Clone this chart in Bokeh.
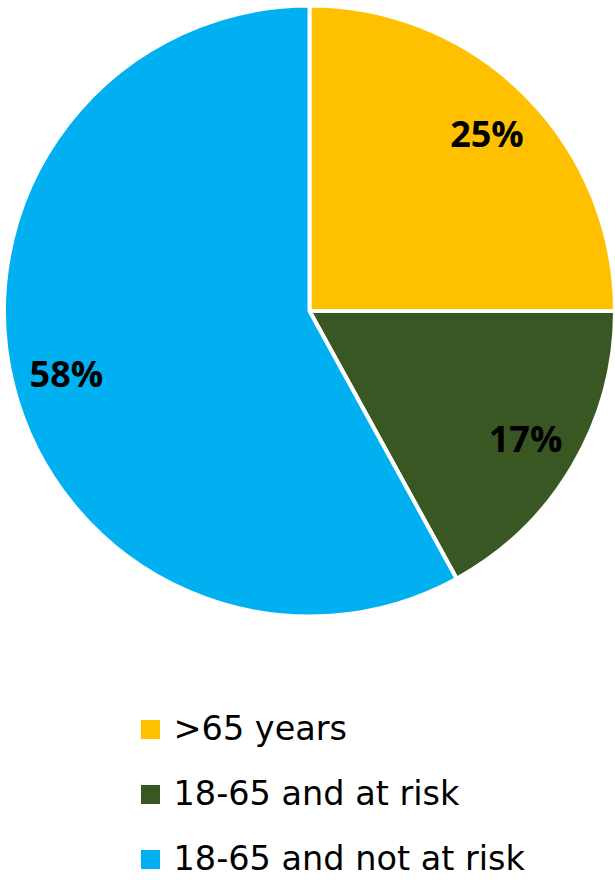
import math
from bokeh.plotting import figure
from bokeh.models import Range1d, ColumnDataSource
from bokeh.core.properties import value
from bokeh.embed import file_html
from bokeh.resources import INLINE

categories = [">65 years", "18-65 and at risk", "18-65 and not at risk"]
shares = [25, 17, 58]
labels = ["25%", "17%", "58%"]
colors = ["#FFC000", "#385723", "#00B0F0"]

W, H = 615, 880
p = figure(width=W, height=H, output_backend="svg", toolbar_location=None,
           x_range=Range1d(0, W), y_range=Range1d(-H, 0),
           min_border=0)
p.axis.visible = False
p.grid.visible = False
p.outline_line_color = None
p.background_fill_color = "white"
p.border_fill_color = "white"

cx, cy, r = 309, -310.5, 305.5
total = sum(shares)
starts, ends, lx, ly = [], [], [], []
acc = 0
for s in shares:
    a0 = math.pi / 2 - 2 * math.pi * acc / total
    acc += s
    a1 = math.pi / 2 - 2 * math.pi * acc / total
    starts.append(a0)
    ends.append(a1)
    mid = (a0 + a1) / 2
    lx.append(cx + 251 * math.cos(mid))
    ly.append(cy + 251 * math.sin(mid))

src = ColumnDataSource(dict(start=starts, end=ends, color=colors,
                            lx=lx, ly=ly, label=labels))
p.wedge(x=cx, y=cy, radius=r, start_angle="start", end_angle="end",
        direction="clock", fill_color="color", line_color="white",
        line_width=4, source=src)
p.text(x="lx", y="ly", text="label", source=src, text_align="center",
       text_baseline="middle", text_font=value("Open Sans"),
       text_font_style="bold", text_font_size="36px", text_color="black")

# legend
row_y = [-728, -793, -858]
sq_x = [150] * 3
tx = [173] * 3
p.rect(x=sq_x, y=[y - 1 for y in row_y], width=19, height=19,
       fill_color=colors, line_color=None)
p.text(x=tx, y=row_y, text=categories, text_align="left",
       text_baseline="middle", text_font=value("DejaVu Sans"),
       text_font_size="33.5px", text_color="black")

open("out.html", "w").write(file_html(p, INLINE))
